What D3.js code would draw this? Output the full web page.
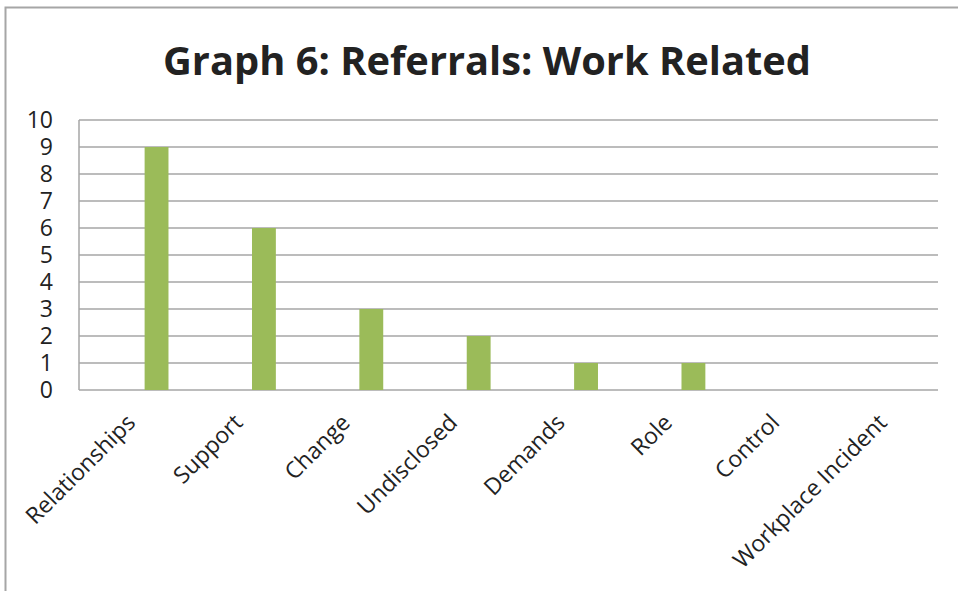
<!DOCTYPE html>
<html><head><meta charset="utf-8">
<script src="https://cdn.jsdelivr.net/npm/d3@7"></script>
<style>body{margin:0;background:#fff}svg{display:block}</style>
</head><body><svg id="c" width="958" height="591"></svg>
<script>
const categories = ["Relationships","Support","Change","Undisclosed","Demands","Role","Control","Workplace Incident"];
const values = [9,6,3,2,1,1,0,0];
const yTicks = [0,1,2,3,4,5,6,7,8,9,10];
const title = "Graph 6: Referrals: Work Related";

const svg = d3.select("#c");
const m = {left:79, right:938, top:120, bottom:390};

svg.append("rect").attr("x",5.5).attr("y",7.5).attr("width",1200).attr("height",1200)
  .attr("fill","none").attr("stroke","#a6a6a6").attr("stroke-width",2);

const x = d3.scaleBand().domain(categories).range([m.left,m.right]).paddingInner(0).paddingOuter(0);
// the bar sits in the third slot of a 3-slot cluster with 150% gap
const slotW = x.bandwidth()/4.5;
const y = d3.scaleLinear().domain([0,10]).range([m.bottom,m.top]);

// gridlines
svg.append("g").selectAll("line").data(yTicks).join("line")
  .attr("x1",m.left).attr("x2",m.right)
  .attr("y1",d=>y(d)).attr("y2",d=>y(d))
  .attr("stroke","#a6a6a6").attr("stroke-width",1.5);
svg.append("line").attr("x1",m.left).attr("x2",m.left).attr("y1",m.top).attr("y2",m.bottom)
  .attr("stroke","#a6a6a6").attr("stroke-width",1.5);

// bars
svg.append("g").selectAll("rect").data(values).join("rect")
  .attr("x",(d,i)=>x(categories[i]) + 0.75*slotW + 2*slotW)
  .attr("width",slotW)
  .attr("y",d=>y(d)).attr("height",d=>y(0)-y(d))
  .attr("fill","#9bbb59");

// y tick labels
svg.append("g").selectAll("text").data(yTicks).join("text")
  .attr("x",53).attr("y",d=>y(d)).attr("dy","0.36em")
  .attr("text-anchor","end")
  .attr("font-family","Open Sans").attr("font-size",23).attr("fill","#222")
  .text(d=>d);

// category labels
svg.append("g").selectAll("text").data(categories).join("text")
  .attr("transform",d=>`translate(${x(d)+x.bandwidth()/2+4},${424}) rotate(-45)`)
  .attr("text-anchor","end")
  .attr("font-family","Open Sans").attr("font-size",23).attr("fill","#222")
  .text(d=>d);

// title
const t = svg.append("text").attr("x",487).attr("y",75).attr("text-anchor","middle")
  .attr("font-family","Open Sans").attr("font-weight","bold").attr("font-size",40).attr("fill","#222")
  .text(title);
const tl = t.node().getComputedTextLength();
if (tl > 648) t.attr("textLength",648).attr("lengthAdjust","spacingAndGlyphs");
</script></body></html>
